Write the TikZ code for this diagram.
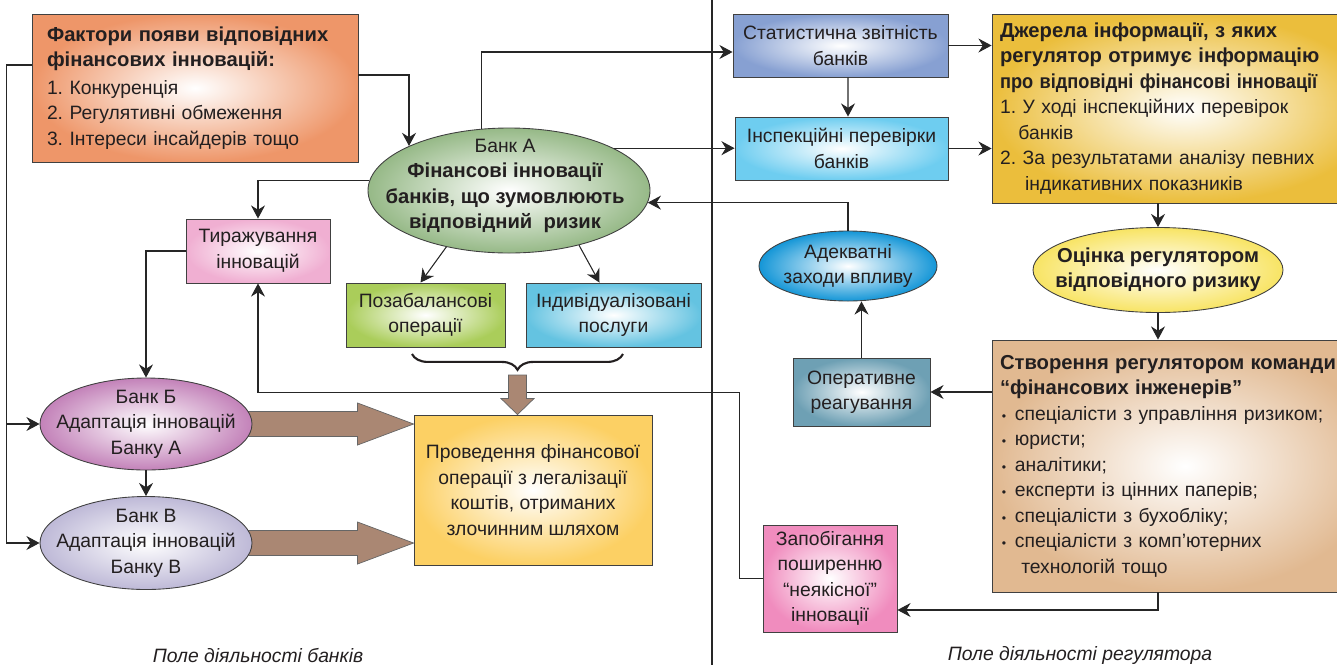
\documentclass[tikz,border=0pt]{standalone}
\usepackage{fontspec}
\setmainfont{Liberation Sans}
\usepackage{tikz}
\usepackage{xcolor}
\usetikzlibrary{
  arrows.meta, positioning, shapes.geometric, calc, backgrounds,
  decorations.pathreplacing,
}
\definecolor{facfill}{RGB}{238,150,105}
\definecolor{bankAfill}{RGB}{150,185,135}
\definecolor{tyrfill}{RGB}{240,175,210}
\definecolor{pozfill}{RGB}{170,205,90}
\definecolor{indfill}{RGB}{100,195,225}
\definecolor{bankBfill}{RGB}{195,130,185}
\definecolor{bankVfill}{RGB}{190,185,215}
\definecolor{provfill}{RGB}{252,208,100}
\definecolor{statfill}{RGB}{135,160,210}
\definecolor{inspfill}{RGB}{110,205,240}
\definecolor{dzhfill}{RGB}{235,190,60}
\definecolor{ocinfill}{RGB}{248,228,100}
\definecolor{stvfill}{RGB}{225,185,145}
\definecolor{adekfill}{RGB}{20,150,215}
\definecolor{operfill}{RGB}{110,160,180}
\definecolor{zapfill}{RGB}{240,140,190}
\definecolor{fatbrown}{RGB}{170,135,115}
\definecolor{inkcol}{RGB}{35,31,32}
\newcommand{\txtreg}{\fontsize{11}{14.5}\selectfont}
\newcommand{\txtbold}{\fontsize{11.5}{14.5}\selectfont\bfseries}
\tikzset{
  rbox/.style={rectangle,draw=black!75,line width=0.5pt,inner color=white,outer color=#1,
    font=\txtreg,text=inkcol,align=center,inner sep=2pt},
  oval/.style={ellipse,draw=black!75,line width=0.5pt,inner color=white,outer color=#1,inner sep=0pt},
  ovaltext/.style={font=\txtreg,text=inkcol,align=center,inner sep=0pt},
  link/.style={draw=black!85,line width=0.6pt},
  arr/.style={link,-{Stealth[length=7.5pt,width=8pt,inset=2.5pt]}},
  fatarrow/.style={draw=black!60,line width=0.4pt,fill=fatbrown},
  fieldlabel/.style={font=\txtreg\itshape,text=inkcol},
}

\begin{document}
\frenchspacing
\begin{tikzpicture}
  \useasboundingbox (0,0) rectangle (26.74,-13.3);
  % field of the banks
  \node[rbox=facfill,align=left,inner xsep=0.3cm,text width=5.92cm,minimum height=2.96cm] (fac) at (3.9,-1.76)
    {{\txtbold Фактори появи відповідних}\\ {\txtbold фінансових інновацій:}\\[1pt]
     1. Конкуренція\\ 2. Регулятивні обмеження\\ 3. Інтереси інсайдерів тощо};
  \node[oval=bankAfill,minimum width=5.64cm,minimum height=2.5cm] (bA) at (10.18,-3.81) {};
  \node[ovaltext] (bAt) at (10.1,-3.72)
    {Банк А\\ {\txtbold Фінансові інновації}\\ {\txtbold банків, що зумовлюють}\\ {\txtbold відповідний\ \ ризик}};
  \node[rbox=tyrfill,minimum width=2.88cm,minimum height=1.28cm] (tyr) at (5.16,-5.02) {Тиражування\\інновацій};
  \node[rbox=pozfill,minimum width=3.18cm,minimum height=1.28cm] (pozab) at (8.51,-6.3) {Позабалансові\\операції};
  \node[rbox=indfill,minimum width=3.5cm,minimum height=1.28cm] (indiv) at (12.27,-6.3) {Індивідуалізовані\\послуги};
  \node[oval=bankBfill,minimum width=4.24cm,minimum height=1.84cm] (bB) at (2.92,-8.48) {};
  \node[ovaltext] (bBt) at (bB) {Банк Б\\Адаптація інновацій\\Банку А};
  \node[oval=bankVfill,minimum width=4.24cm,minimum height=1.86cm] (bV) at (2.92,-10.86) {};
  \node[ovaltext] (bVt) at (bV) {Банк В\\Адаптація інновацій\\Банку В};
  \node[rbox=provfill,minimum width=4.76cm,minimum height=3.0cm] (prov) at (10.66,-9.8)
    {Проведення фінансової\\операції з легалізації\\коштів, отриманих\\злочинним шляхом};
  % field of the regulator
  \node[rbox=statfill,minimum width=4.3cm,minimum height=1.26cm] (stat) at (16.81,-0.91) {Статистична звітність\\банків};
  \node[rbox=inspfill,minimum width=4.26cm,minimum height=1.26cm] (insp) at (16.83,-2.97) {Інспекційні перевірки\\банків};
  \node[rbox=dzhfill,align=left,inner xsep=0.16cm,text width=7.4cm,minimum height=3.78cm] (dzh) at (23.7,-2.17)
    {{\txtbold Джерела інформації, з яких}\\ {\txtbold регулятор отримує інформацію}\\
     {\txtbold\addfontfeatures{FakeStretch=0.9}про відповідні фінансові інновації}\\
     1. У ході інспекційних перевірок\\ \hspace*{0.95em}банків\\
     2. За результатами аналізу певних\\ \hspace*{1.3em}індикативних показників};
  \node[oval=ocinfill,minimum width=5.0cm,minimum height=1.7cm] (ocin) at (23.16,-5.4) {};
  \node[ovaltext,font=\txtbold] (ocint) at (ocin) {Оцінка регулятором\\відповідного ризику};
  \node[rbox=stvfill,align=left,inner xsep=0.16cm,text width=7.4cm,minimum height=5.04cm] (stv) at (23.7,-9.32)
    {{\txtbold Створення регулятором команди}\\ {\txtbold “фінансових інженерів”}\\
     \hspace*{0.1em}{\scriptsize\textbullet}\hspace{0.45em}спеціалісти з управління ризиком;\\
     \hspace*{0.1em}{\scriptsize\textbullet}\hspace{0.45em}юристи;\\
     \hspace*{0.1em}{\scriptsize\textbullet}\hspace{0.45em}аналітики;\\
     \hspace*{0.1em}{\scriptsize\textbullet}\hspace{0.45em}експерти із цінних паперів;\\
     \hspace*{0.1em}{\scriptsize\textbullet}\hspace{0.45em}спеціалісти з бухобліку;\\
     \hspace*{0.1em}{\scriptsize\textbullet}\hspace{0.45em}спеціалісти з комп’ютерних\\
     \hspace*{1.1em}технологій тощо};
  \node[oval=adekfill,minimum width=3.56cm,minimum height=1.4cm] (adek) at (16.96,-5.32) {};
  \node[ovaltext] (adekt) at (adek) {Адекватні\\заходи впливу};
  \node[rbox=operfill,minimum width=2.74cm,minimum height=1.36cm] (oper) at (17.23,-7.84) {Оперативне\\реагування};
  \node[rbox=zapfill,minimum width=2.68cm,minimum height=2.14cm] (zap) at (16.6,-11.57)
    {Запобігання\\поширенню\\“неякісної”\\інновації};
  \node[fieldlabel] (lblbank) at (5.16,-13.1) {Поле діяльності банків};
  \node[fieldlabel] (lblreg) at (21.6,-13.1) {Поле діяльності регулятора};
  % divider
  \draw[link] (14.24,0) -- (14.24,-13.3);
  % connectors
  \draw[arr] ($(fac.west)+(0,0.46)$) -| ($(bB.west)+(-0.66,0)$) -- (bB.west);
  \draw[arr] ($(bB.west)+(-0.66,0)$) |- (bV.west);
  \draw[arr] ($(fac.east)+(0,0.26)$) -| (bA.156);
  \draw[arr] (bA.114) |- ($(stat.west)+(0,-0.13)$);
  \draw[arr] (bA.22) -- (bA.22 -| insp.west);
  \draw[arr] (bA.176) -| (tyr.north);
  \draw[arr] (tyr.west) -| (bB.north);
  \draw[arr] (bB.south) -- (bV.north);
  \draw[arr] (bA.222) -- ($(pozab.north)+(-0.1,0)$);
  \draw[arr] (bA.-38) -- ($(indiv.north)+(-0.28,0)$);
  \draw[arr] (zap.west) -- ++(-0.46,0) |- ($(tyr.south)+(0,-2.18)$) -- (tyr.south);
  \draw[arr] ($(stat.south)+(0.15,0)$) -- ($(insp.north)+(0.13,0)$);
  \draw[arr] (stat.east) -- (stat.east -| dzh.west);
  \draw[arr] (insp.east) -- (insp.east -| dzh.west);
  \draw[arr] (dzh.south -| ocin.north) -- (ocin.north);
  \draw[arr] (ocin.south) -- (ocin.south |- stv.north);
  \draw[arr] (stv.west |- oper.east) -- (oper.east);
  \draw[arr] (oper.north) -- (oper.north |- adek.south);
  \draw[arr] (adek.north) |- (bA.-5);
  \draw[arr] (stv.south -| ocin.south) |- ($(zap.east)+(0,-0.63)$);
  % brace and fat arrows
  \coordinate (brL) at (8.24,-7.08);
  \coordinate (brR) at (12.46,-7.08);
  \coordinate (brtip) at ($(brL)!0.5!(brR)+(0,-0.38)$);
  \draw[decorate,decoration={brace,amplitude=9pt,mirror},line width=1.2pt,inkcol] (brL) -- (brR);
  \coordinate (vtip) at (brtip |- prov.north);
  \draw[fatarrow] ($(brtip)+(-0.18,-0.04)$) -- ($(vtip)+(-0.18,0.32)$) -- ($(vtip)+(-0.33,0.32)$) -- (vtip)
    -- ($(vtip)+(0.33,0.32)$) -- ($(vtip)+(0.18,0.32)$) -- ($(brtip)+(0.18,-0.04)$) -- cycle;
  \coordinate (tipB) at (prov.west |- bB.east);
  \coordinate (tipV) at (prov.west |- bV.east);
  \begin{scope}[on background layer]
    \draw[fatarrow] ($(bB.east)+(-0.2,0.25)$) -- ($(tipB)+(-1.12,0.25)$) -- ($(tipB)+(-1.12,0.42)$) -- (tipB)
      -- ($(tipB)+(-1.12,-0.42)$) -- ($(tipB)+(-1.12,-0.25)$) -- ($(bB.east)+(-0.2,-0.25)$) -- cycle;
    \draw[fatarrow] ($(bV.east)+(-0.2,0.25)$) -- ($(tipV)+(-1.12,0.25)$) -- ($(tipV)+(-1.12,0.42)$) -- (tipV)
      -- ($(tipV)+(-1.12,-0.42)$) -- ($(tipV)+(-1.12,-0.25)$) -- ($(bV.east)+(-0.2,-0.25)$) -- cycle;
  \end{scope}
\end{tikzpicture}
\end{document}
